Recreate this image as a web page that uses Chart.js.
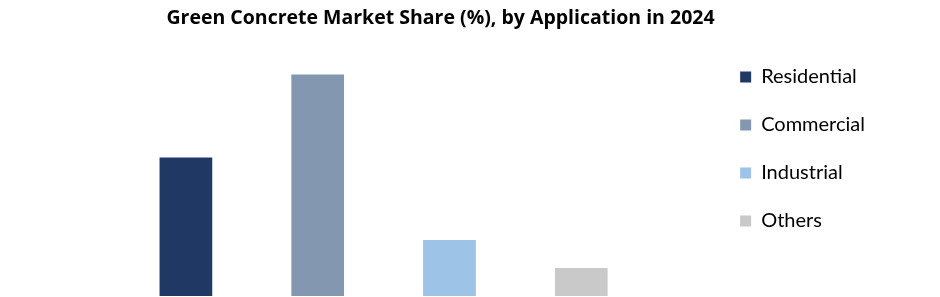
<!DOCTYPE html>
<html><head><meta charset="utf-8">
<script src="https://cdn.jsdelivr.net/npm/chart.js@4"></script>
<style>html,body{margin:0;padding:0;background:#fff}#wrap{width:940px;height:297px}</style>
</head><body><div id="wrap"><canvas id="c"></canvas></div>
<script>
const chartTitle = 'Green Concrete Market Share (%), by Application in 2024';
const categories = ['Residential', 'Commercial', 'Industrial', 'Others'];
const shares = [31.2, 49.9, 12.6, 6.3];
const colors = ['#203864', '#8497B0', '#9DC3E6', '#C9C9C9'];

function build() {
  new Chart(document.getElementById('c'), {
    type: 'bar',
    data: {
      labels: categories,
      datasets: [{
        label: 'Market Share (%)',
        data: shares,
        backgroundColor: colors,
        borderWidth: 0,
        categoryPercentage: 1,
        barPercentage: 0.4
      }]
    },
    options: {
      responsive: true,
      maintainAspectRatio: false,
      animation: false,
      layout: { padding: { left: 6, right: 65, top: 2, bottom: 1 } },
      plugins: {
        tooltip: { enabled: false },
        title: {
          display: true,
          text: chartTitle,
          color: '#000',
          font: { family: '"Open Sans"', size: 19.5, weight: 'bold' },
          padding: { top: 5, bottom: 21.4 }
        },
        legend: {
          display: true,
          position: 'right',
          align: 'center',
          maxWidth: 320,
          labels: {
            boxWidth: 11,
            boxHeight: 11,
            padding: 28,
            color: '#262626',
            font: { family: 'Lato', size: 20 },
            generateLabels: (chart) => chart.data.labels.map((l, i) => ({
              text: l,
              fillStyle: colors[i],
              strokeStyle: colors[i],
              lineWidth: 0,
              hidden: false,
              index: i
            }))
          }
        }
      },
      scales: {
        x: { display: false, grid: { display: false } },
        y: {
          min: 0, max: 55,
          display: true,
          ticks: { display: false },
          grid: { display: false },
          border: { display: false },
          afterFit: (s) => { s.width = 114; }
        },
        y2: {
          type: 'linear',
          position: 'right',
          display: true,
          ticks: { display: false },
          grid: { display: false },
          border: { display: false },
          afterFit: (s) => { s.width = 65; }
        }
      }
    }
  });
}

Promise.all([
  document.fonts.load('20px Lato'),
  document.fonts.load('bold 19.5px "Open Sans"')
]).then(build, build);
</script>
</body></html>
